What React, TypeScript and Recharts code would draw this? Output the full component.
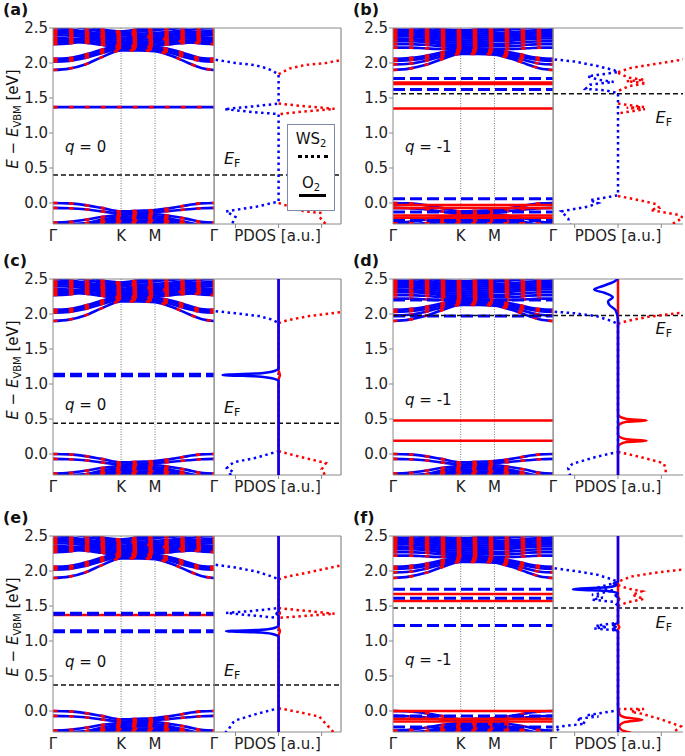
import React from 'react';
import { ComposedChart, Line, XAxis, YAxis, ReferenceLine, ScatterChart, Scatter } from 'recharts';

const FONT = '"DejaVu Sans", Verdana, sans-serif';
const BLUE = '#0000ff';
const RED = '#ff0000';
const SPINE = '#8a8a8a';

// k-path as fraction of the Γ-K-M-Γ length
const K_PATH = [0, 0.1, 0.2, 0.3, 0.423, 0.53, 0.634, 0.74, 0.84, 0.92, 1];
const K_TICKS = [0, 0.423, 0.634, 1];
const K_LABELS = ['Γ', 'K', 'M', 'Γ'];
const E_TICKS = [0, 0.5, 1, 1.5, 2, 2.5];
const PDOS_TICKS = [-1, 0, 1];

// host WS2 conduction bands, neutral cell (eV, one value per K_PATH point)
const CB_Q0 = [
  [1.9, 1.92, 1.98, 2.08, 2.18, 2.18, 2.17, 2.1, 2.0, 1.93, 1.9],
  [2.02, 2.03, 2.07, 2.14, 2.2, 2.2, 2.19, 2.14, 2.07, 2.03, 2.02],
  [2.05, 2.06, 2.1, 2.17, 2.22, 2.22, 2.21, 2.17, 2.1, 2.06, 2.05],
  [2.06, 2.07, 2.12, 2.19, 2.25, 2.24, 2.23, 2.19, 2.12, 2.07, 2.06],
  [2.3, 2.3, 2.29, 2.26, 2.22, 2.24, 2.25, 2.27, 2.29, 2.3, 2.3],
  [2.33, 2.33, 2.31, 2.28, 2.25, 2.27, 2.28, 2.3, 2.32, 2.33, 2.33],
  [2.36, 2.35, 2.34, 2.31, 2.28, 2.3, 2.31, 2.33, 2.35, 2.36, 2.36],
  [2.4, 2.39, 2.37, 2.33, 2.3, 2.33, 2.34, 2.36, 2.38, 2.39, 2.4],
  [2.43, 2.42, 2.4, 2.36, 2.33, 2.36, 2.37, 2.39, 2.41, 2.42, 2.43],
  [2.46, 2.45, 2.43, 2.39, 2.36, 2.39, 2.4, 2.42, 2.44, 2.45, 2.46],
  [2.5, 2.48, 2.45, 2.42, 2.39, 2.42, 2.43, 2.45, 2.47, 2.49, 2.5],
  [2.55, 2.53, 2.49, 2.45, 2.42, 2.45, 2.47, 2.49, 2.51, 2.53, 2.55],
  [2.6, 2.57, 2.53, 2.48, 2.45, 2.48, 2.5, 2.52, 2.55, 2.57, 2.6],
  [2.27, 2.28, 2.32, 2.38, 2.45, 2.4, 2.36, 2.33, 2.3, 2.28, 2.27],
];

// host conduction bands, charged cell
const CB_QM1 = [
  [1.9, 1.92, 1.97, 2.05, 2.13, 2.13, 2.12, 2.06, 1.98, 1.92, 1.9],
  [1.98, 1.99, 2.03, 2.09, 2.15, 2.15, 2.14, 2.09, 2.03, 1.99, 1.98],
  [2.03, 2.04, 2.07, 2.12, 2.17, 2.17, 2.16, 2.12, 2.07, 2.04, 2.03],
  [2.06, 2.07, 2.1, 2.15, 2.19, 2.19, 2.18, 2.15, 2.1, 2.07, 2.06],
  [2.22, 2.22, 2.21, 2.2, 2.21, 2.21, 2.2, 2.2, 2.21, 2.22, 2.22],
  [2.27, 2.27, 2.26, 2.24, 2.23, 2.24, 2.24, 2.24, 2.26, 2.27, 2.27],
  [2.31, 2.31, 2.3, 2.27, 2.26, 2.27, 2.27, 2.28, 2.3, 2.31, 2.31],
  [2.35, 2.34, 2.33, 2.3, 2.29, 2.3, 2.31, 2.32, 2.34, 2.35, 2.35],
  [2.38, 2.38, 2.36, 2.33, 2.32, 2.33, 2.34, 2.35, 2.37, 2.38, 2.38],
  [2.42, 2.41, 2.39, 2.36, 2.35, 2.36, 2.37, 2.38, 2.4, 2.41, 2.42],
  [2.45, 2.44, 2.42, 2.39, 2.38, 2.39, 2.4, 2.41, 2.43, 2.44, 2.45],
  [2.48, 2.47, 2.45, 2.42, 2.41, 2.42, 2.43, 2.44, 2.46, 2.47, 2.48],
  [2.52, 2.51, 2.48, 2.45, 2.44, 2.45, 2.46, 2.48, 2.5, 2.51, 2.52],
  [2.56, 2.54, 2.51, 2.48, 2.47, 2.48, 2.49, 2.51, 2.53, 2.55, 2.56],
];

// host valence bands
const VB_Q0 = [
  [0.0, -0.005, -0.03, -0.07, -0.12, -0.11, -0.1, -0.07, -0.03, -0.005, 0.0],
  [-0.07, -0.075, -0.09, -0.12, -0.15, -0.14, -0.13, -0.11, -0.09, -0.075, -0.07],
  [-0.28, -0.27, -0.24, -0.2, -0.17, -0.16, -0.16, -0.19, -0.23, -0.27, -0.28],
  [-0.35, -0.33, -0.29, -0.24, -0.2, -0.19, -0.19, -0.23, -0.28, -0.33, -0.35],
  [-0.4, -0.38, -0.33, -0.27, -0.23, -0.22, -0.22, -0.26, -0.32, -0.38, -0.4],
  [-0.3, -0.3, -0.29, -0.27, -0.26, -0.25, -0.25, -0.27, -0.29, -0.3, -0.3],
  [-0.45, -0.43, -0.38, -0.31, -0.28, -0.27, -0.27, -0.3, -0.36, -0.43, -0.45],
  [-0.5, -0.46, -0.4, -0.33, -0.3, -0.29, -0.29, -0.33, -0.4, -0.46, -0.5],
];

// flat O2 levels (eV): spin-up (red solid), spin-down (blue dashed), degenerate
const DEG_A = [1.37];
const UP_B = [1.72, 1.7, 1.35, -0.03, -0.07, -0.18, -0.21];
const DN_B = [1.78, 1.62, 0.06, -0.13, -0.25];
const DN_C = [1.13];
const UP_D = [0.48, 0.19];
const DN_D = [2.2, 1.97];
const UP_E = [1.37];
const DN_E = [1.39, 1.14];
const UP_F = [1.67, 1.57, 0.0, -0.11, -0.15];
const DN_F = [1.74, 1.61, 1.22, -0.07, -0.23];

// PDOS curves: [pdos, energy]
const WS2_DN_A = [[-1.6, 2.06], [-1.0, 2.0], [-0.55, 1.97], [-0.25, 1.92], [0, 1.84], [0, 1.42], [-0.6, 1.38], [-1.26, 1.34], [-0.6, 1.3], [0, 1.27], [0, 0.02], [-0.5, -0.05], [-1.22, -0.12], [-1.0, -0.2], [-1.1, -0.32]];
const WS2_UP_A = [
  [[0, 1.84], [0.25, 1.92], [0.6, 1.97], [1.1, 2.0], [1.6, 2.06]],
  [[0, 1.42], [0.65, 1.38], [1.3, 1.345], [0.65, 1.31], [0, 1.27]],
  [[0, 0.0], [0.6, -0.12], [0.97, -0.14], [0.95, -0.2], [1.12, -0.32]],
];
const WS2_DN_B = [[-1.6, 2.06], [-1.0, 2.02], [-0.5, 1.96], [-0.1, 1.9], [0, 1.87], [-0.7, 1.81], [-0.45, 1.76], [-0.1, 1.73], [-0.65, 1.69], [-0.75, 1.63], [-0.3, 1.61], [0, 1.57], [0, 0.11], [-0.65, 0.04], [-0.46, 0.0], [-0.68, -0.05], [-1.31, -0.12], [-1.15, -0.22], [-1.1, -0.32]];
const WS2_UP_B = [
  [[0, 1.87], [0.3, 1.93], [0.8, 1.98], [1.6, 2.06]],
  [[0, 1.86], [0.25, 1.79], [0.6, 1.76], [0.2, 1.74], [0.65, 1.71], [0.25, 1.67], [0, 1.6]],
  [[0, 1.42], [0.6, 1.37], [0.2, 1.36], [0.62, 1.34], [0, 1.28]],
  [[0, 0.1], [0.5, 0.04], [0.9, -0.02], [0.95, -0.07], [0.75, -0.1], [1.4, -0.17], [1.5, -0.21], [1.2, -0.32]],
];
const WS2_DN_C = [[-1.6, 2.05], [-1.0, 2.01], [-0.45, 1.97], [-0.15, 1.92], [0, 1.87], [0, 0.04], [-0.5, -0.05], [-1.05, -0.12], [-1.2, -0.2], [-1.05, -0.26], [-1.2, -0.32]];
const WS2_UP_C = [
  [[0, 1.87], [0.2, 1.91], [0.7, 1.97], [1.6, 2.04]],
  [[0, 0.04], [0.5, -0.04], [1.1, -0.13], [1.0, -0.22], [1.1, -0.32]],
];
const O2_DN_C = [[0, -0.3], [0, 1.04], [-0.08, 1.07], [-0.4, 1.105], [-1.3, 1.13], [-0.4, 1.155], [-0.08, 1.19], [0, 1.22], [0, 2.5]];
const O2_UP_C = [[0, -0.3], [0, 1.06], [0.03, 1.13], [0, 1.2], [0, 2.5]];
const WS2_DN_D = [[-1.6, 2.04], [-1.0, 2.01], [-0.5, 1.97], [-0.15, 1.9], [0, 1.86], [0, 0.03], [-0.5, -0.04], [-1.05, -0.14], [-1.15, -0.2], [-1.1, -0.32]];
const WS2_UP_D = [
  [[0, 1.86], [0.2, 1.9], [0.7, 1.96], [1.6, 2.03]],
  [[0, 0.03], [0.5, -0.04], [1.05, -0.13], [1.1, -0.2], [1.1, -0.32]],
];
const O2_DN_D = [[0, -0.3], [0, 1.9], [-0.05, 2.05], [-0.2, 2.13], [-0.23, 2.18], [-0.12, 2.24], [-0.3, 2.3], [-0.55, 2.35], [-0.35, 2.4], [-0.1, 2.46], [0, 2.5]];
const O2_UP_D = [[0, -0.3], [0, 0.1], [0.05, 0.14], [0.2, 0.17], [0.66, 0.19], [0.2, 0.21], [0.05, 0.24], [0, 0.28], [0, 0.39], [0.05, 0.43], [0.2, 0.46], [0.66, 0.48], [0.2, 0.5], [0.05, 0.53], [0, 0.57], [0, 2.5]];
const WS2_DN_E = [[-1.6, 2.1], [-1.0, 2.05], [-0.5, 1.99], [-0.15, 1.92], [0, 1.88], [0, 1.47], [-0.6, 1.43], [-1.22, 1.4], [-0.6, 1.365], [0, 1.33], [0, 0.04], [-0.5, -0.04], [-0.98, -0.13], [-1.05, -0.16], [-1.15, -0.25], [-1.25, -0.32]];
const WS2_UP_E = [
  [[0, 1.88], [0.2, 1.92], [0.7, 1.98], [1.6, 2.1]],
  [[0, 1.47], [0.65, 1.43], [1.3, 1.39], [0.65, 1.36], [0, 1.33]],
  [[0, 0.04], [0.5, -0.02], [0.95, -0.08], [1.0, -0.12], [1.2, -0.25], [1.3, -0.32]],
];
const O2_DN_E = [[0, -0.3], [0, 1.06], [-0.08, 1.09], [-0.4, 1.12], [-1.22, 1.14], [-0.4, 1.16], [-0.08, 1.19], [0, 1.22], [0, 1.36], [-0.05, 1.39], [0, 1.42], [0, 2.5]];
const O2_UP_E = [[0, -0.3], [0, 1.08], [0.03, 1.14], [0, 1.2], [0, 1.36], [0.03, 1.4], [0, 1.44], [0, 2.5]];
const WS2_DN_F = [[-1.6, 2.05], [-1.0, 2.0], [-0.5, 1.95], [-0.13, 1.88], [0, 1.84], [-0.5, 1.76], [-0.1, 1.72], [-0.6, 1.66], [-0.35, 1.62], [-0.6, 1.59], [-0.1, 1.56], [0, 1.5], [0, 1.26], [-0.5, 1.22], [-0.25, 1.2], [-0.55, 1.18], [0, 1.15], [0, 0.01], [-0.7, -0.06], [-0.45, -0.08], [-0.95, -0.11], [-0.75, -0.18], [-1.45, -0.23], [-1.3, -0.32]];
const WS2_UP_F = [
  [[0.05, 1.86], [0.3, 1.92], [0.8, 1.97], [1.6, 2.03]],
  [[0, 1.8], [0.22, 1.75], [0.55, 1.71], [0.33, 1.66], [0.6, 1.6], [0.2, 1.55], [0, 1.5]],
  [[0, 0.03], [0.6, 0.03], [0.3, -0.01], [0.55, -0.04], [1.0, -0.12], [1.45, -0.22], [1.25, -0.32]],
];
const O2_DN_F = [[0, -0.3], [0, 1.14], [-0.12, 1.17], [-0.05, 1.2], [-0.12, 1.23], [0, 1.26], [0, 1.62], [-0.06, 1.65], [0, 1.68], [-0.2, 1.71], [-1.04, 1.74], [-0.2, 1.77], [-0.03, 1.8], [-0.1, 1.82], [0, 1.85], [0, 2.5]];
const O2_UP_F = [[0.3, -0.31], [0.08, -0.27], [0.03, -0.22], [0.15, -0.16], [0.56, -0.125], [0.15, -0.09], [0.04, -0.05], [0.02, 0.0], [0, 0.06], [0, 1.16], [0.03, 1.2], [0, 1.24], [0, 1.56], [0.03, 1.6], [0, 1.64], [0, 2.5]];

const PANELS = [
  { id: 'a', q: '0', cb: CB_Q0, deg: DEG_A, up: [], dn: [], dnW: 3, ef: 0.4, efSide: 'left', efDy: -11, qY: 124, ws2Dn: WS2_DN_A, ws2Up: WS2_UP_A, o2Dn: null, o2Up: null },
  { id: 'b', q: '-1', cb: CB_QM1, deg: [], up: UP_B, dn: DN_B, dnW: 3, ef: 1.56, efSide: 'right', efDy: 29, qY: 124, ws2Dn: WS2_DN_B, ws2Up: WS2_UP_B, o2Dn: null, o2Up: null },
  { id: 'c', q: '0', cb: CB_Q0, deg: [], up: [], dn: DN_C, dnW: 4.5, ef: 0.44, efSide: 'left', efDy: -10, qY: 131, ws2Dn: WS2_DN_C, ws2Up: WS2_UP_C, o2Dn: O2_DN_C, o2Up: O2_UP_C },
  { id: 'd', q: '-1', cb: CB_QM1, deg: [], up: UP_D, dn: DN_D, dnW: 3, ef: 1.98, efSide: 'right', efDy: 19, qY: 126, ws2Dn: WS2_DN_D, ws2Up: WS2_UP_D, o2Dn: O2_DN_D, o2Up: O2_UP_D },
  { id: 'e', q: '0', cb: CB_Q0, deg: [], up: UP_E, dn: DN_E, dnW: 4, ef: 0.37, efSide: 'left', efDy: -9, qY: 131, ws2Dn: WS2_DN_E, ws2Up: WS2_UP_E, o2Dn: O2_DN_E, o2Up: O2_UP_E },
  { id: 'f', q: '-1', cb: CB_QM1, deg: [], up: UP_F, dn: DN_F, dnW: 3, ef: 1.47, efSide: 'right', efDy: 20, qY: 129, ws2Dn: WS2_DN_F, ws2Up: WS2_UP_F, o2Dn: O2_DN_F, o2Up: O2_UP_F },
];

const ROW_TOP = [28, 279, 536];
const COLS = [
  { left: 53, bw: 161, pw: 127, pmax: 1.45, spine: true },
  { left: 393, bw: 160, pw: 130, pmax: 1.5, spine: false },
];
const PLOT_H = 196;
const TOP_M = 10;
const AXIS_H = 30;
const Y_W = 45;

const tickStyle = { fill: '#222', fontSize: 15, fontFamily: FONT };
const noShape = () => <g />;

function EfLabel(props: any) {
  const vb = props.viewBox || {};
  const left = props.anchorSide === 'left';
  const x = left ? vb.x + 10 : vb.x + vb.width - 11;
  const y = vb.y + props.efdy;
  return (
    <text x={x} y={y} textAnchor={left ? 'start' : 'end'} fontFamily={FONT} fontSize={16} fill="#111">
      <tspan fontStyle="italic">E</tspan>
      <tspan fontSize={11} dy={3}>F</tspan>
    </text>
  );
}

function BandPanel({ p, left, top, bw }: any) {
  const rows = K_PATH.map((k, i) => {
    const r: any = { k };
    p.cb.forEach((b: number[], j: number) => (r['c' + j] = b[i]));
    VB_Q0.forEach((b, j) => (r['v' + j] = b[i]));
    p.deg.forEach((e: number, j: number) => (r['g' + j] = e));
    p.up.forEach((e: number, j: number) => (r['u' + j] = e));
    p.dn.forEach((e: number, j: number) => (r['d' + j] = e));
    return r;
  });
  const hostKeys = [
    ...p.cb.map((_: any, j: number) => 'c' + j),
    ...VB_Q0.map((_, j) => 'v' + j),
    ...p.deg.map((_: any, j: number) => 'g' + j),
  ];
  const w = Y_W + bw + 10;
  return (
    <div style={{ position: 'absolute', left: left - Y_W, top: top - TOP_M, width: w, height: TOP_M + PLOT_H + AXIS_H }}>
      <ComposedChart width={w} height={TOP_M + PLOT_H + AXIS_H} data={rows} margin={{ top: TOP_M, right: 10, bottom: 0, left: 0 }}>
        <XAxis type="number" dataKey="k" domain={[0, 1]} ticks={K_TICKS} allowDataOverflow
          tickFormatter={(v: number) => K_LABELS[K_TICKS.indexOf(v)] ?? ''}
          height={AXIS_H} tickSize={4} tickMargin={2} tickLine={false} stroke={SPINE} tick={tickStyle} interval={0} />
        <YAxis type="number" domain={[-0.3, 2.5]} ticks={E_TICKS} allowDataOverflow width={Y_W}
          tickFormatter={(v: number) => v.toFixed(1)} tickSize={4} tickMargin={1} stroke={SPINE} tick={tickStyle} interval={0} />
        <ReferenceLine x={0.423} stroke="#555" strokeWidth={0.8} strokeDasharray="1 1.5" />
        <ReferenceLine x={0.634} stroke="#555" strokeWidth={0.8} strokeDasharray="1 1.5" />
        {hostKeys.map((key) => (
          <Line key={'b' + key} dataKey={key} type="monotone" stroke={BLUE} strokeWidth={2.6} dot={false} activeDot={false} isAnimationActive={false} />
        ))}
        {hostKeys.map((key) => (
          <Line key={'r' + key} dataKey={key} type="monotone" stroke={RED} strokeWidth={2.6} strokeDasharray="4.5 11.5" dot={false} activeDot={false} isAnimationActive={false} />
        ))}
        {p.up.map((_: any, j: number) => (
          <Line key={'u' + j} dataKey={'u' + j} type="linear" stroke={RED} strokeWidth={2.5} dot={false} activeDot={false} isAnimationActive={false} />
        ))}
        {p.dn.map((_: any, j: number) => (
          <Line key={'d' + j} dataKey={'d' + j} type="linear" stroke={BLUE} strokeWidth={p.dnW} strokeDasharray="12 5" dot={false} activeDot={false} isAnimationActive={false} />
        ))}
        <ReferenceLine y={p.ef} stroke="#111" strokeWidth={1.5} strokeDasharray="5 3" />
        <ReferenceLine y={2.5} stroke={SPINE} strokeWidth={1} />
        <ReferenceLine x={1} stroke={SPINE} strokeWidth={1.2} />
      </ComposedChart>
    </div>
  );
}

function curve(pts: number[][], color: string, dash: string | undefined, key: string, joint: any = 'linear') {
  return (
    <Scatter key={key} data={pts.map(([x, e]) => ({ x, e }))} fill="none" shape={noShape}
      line={{ stroke: color, strokeWidth: 2.5, strokeDasharray: dash, fill: 'none' }}
      lineType="joint" lineJointType={joint} isAnimationActive={false} />
  );
}

function PdosPanel({ p, left, top, pw, pmax, spine }: any) {
  const w = pw + 4;
  const dots = '2.5 3.5';
  return (
    <div style={{ position: 'absolute', left, top: top - TOP_M, width: w, height: TOP_M + PLOT_H + AXIS_H }}>
      <ScatterChart width={w} height={TOP_M + PLOT_H + AXIS_H} margin={{ top: TOP_M, right: 4, bottom: 0, left: 0 }}>
        <XAxis type="number" dataKey="x" domain={[-1.5, pmax]} ticks={PDOS_TICKS} allowDataOverflow
          tickFormatter={() => ''} height={AXIS_H} tickSize={4} stroke={SPINE} interval={0}
          label={{ value: 'PDOS [a.u.]', position: 'insideBottom', offset: 13, fill: '#222', fontSize: 15, fontFamily: FONT }} />
        <YAxis type="number" dataKey="e" domain={[-0.3, 2.5]} allowDataOverflow hide />
        {p.ws2Up.map((seg: number[][], j: number) => curve(seg, RED, dots, 'wu' + j))}
        {curve(p.ws2Dn, BLUE, dots, 'wd')}
        {p.o2Up && curve(p.o2Up, RED, undefined, 'ou', 'monotoneY')}
        {p.o2Dn && curve(p.o2Dn, BLUE, undefined, 'od', 'monotoneY')}
        <ReferenceLine y={p.ef} stroke="#111" strokeWidth={1.5} strokeDasharray="5 3"
          label={<EfLabel anchorSide={p.efSide} efdy={p.efDy} />} />
        <ReferenceLine y={2.5} stroke={SPINE} strokeWidth={1} />
        <ReferenceLine x={-1.5} stroke={SPINE} strokeWidth={1.2} />
        {spine && <ReferenceLine x={pmax} stroke={SPINE} strokeWidth={1.2} />}
      </ScatterChart>
    </div>
  );
}

const textBase: React.CSSProperties = { position: 'absolute', fontFamily: FONT, color: '#111', whiteSpace: 'nowrap', lineHeight: 1 };

export default function App() {
  return (
    <div style={{ position: 'absolute', left: 0, top: 0, width: 685, height: 756, background: '#fff', overflow: 'hidden' }}>
      {PANELS.map((p, i) => {
        const T = ROW_TOP[Math.floor(i / 2)];
        const c = COLS[i % 2];
        return (
          <React.Fragment key={p.id}>
            <BandPanel p={p} left={c.left} top={T} bw={c.bw} />
            <PdosPanel p={p} left={c.left + c.bw} top={T} pw={c.pw} pmax={c.pmax} spine={c.spine} />
            <div style={{ ...textBase, left: i % 2 ? 353 : 3, top: T - 26, fontSize: 16, fontWeight: 'bold' }}>({p.id})</div>
            <div style={{ ...textBase, left: c.left + 12, top: T + p.qY - 12, fontSize: 15 }}>
              <i>q</i> = {p.q}
            </div>
            {i % 2 === 0 && (
              <div style={{ ...textBase, left: 13, top: T + 91, fontSize: 15, transform: 'translate(-50%, -50%) rotate(-90deg)' }}>
                <i>E</i> − <i>E</i><span style={{ fontSize: 10, position: 'relative', top: 3 }}>VBM</span> [eV]
              </div>
            )}
          </React.Fragment>
        );
      })}
      <div style={{ position: 'absolute', left: 287, top: 124, width: 46, height: 85, border: '1px solid #7d8aa8', background: '#fff', fontFamily: FONT, fontSize: 15, color: '#111' }}>
        <div style={{ position: 'absolute', top: 7, width: '100%', textAlign: 'center', lineHeight: 1 }}>
          WS<span style={{ fontSize: 10, position: 'relative', top: 3 }}>2</span>
        </div>
        <div style={{ position: 'absolute', top: 30, left: 10, width: 30, borderTop: '3px dotted #000' }} />
        <div style={{ position: 'absolute', top: 51, width: '100%', textAlign: 'center', lineHeight: 1 }}>
          O<span style={{ fontSize: 10, position: 'relative', top: 3 }}>2</span>
        </div>
        <div style={{ position: 'absolute', top: 69, left: 11, width: 27, borderTop: '3px solid #000' }} />
      </div>
    </div>
  );
}
